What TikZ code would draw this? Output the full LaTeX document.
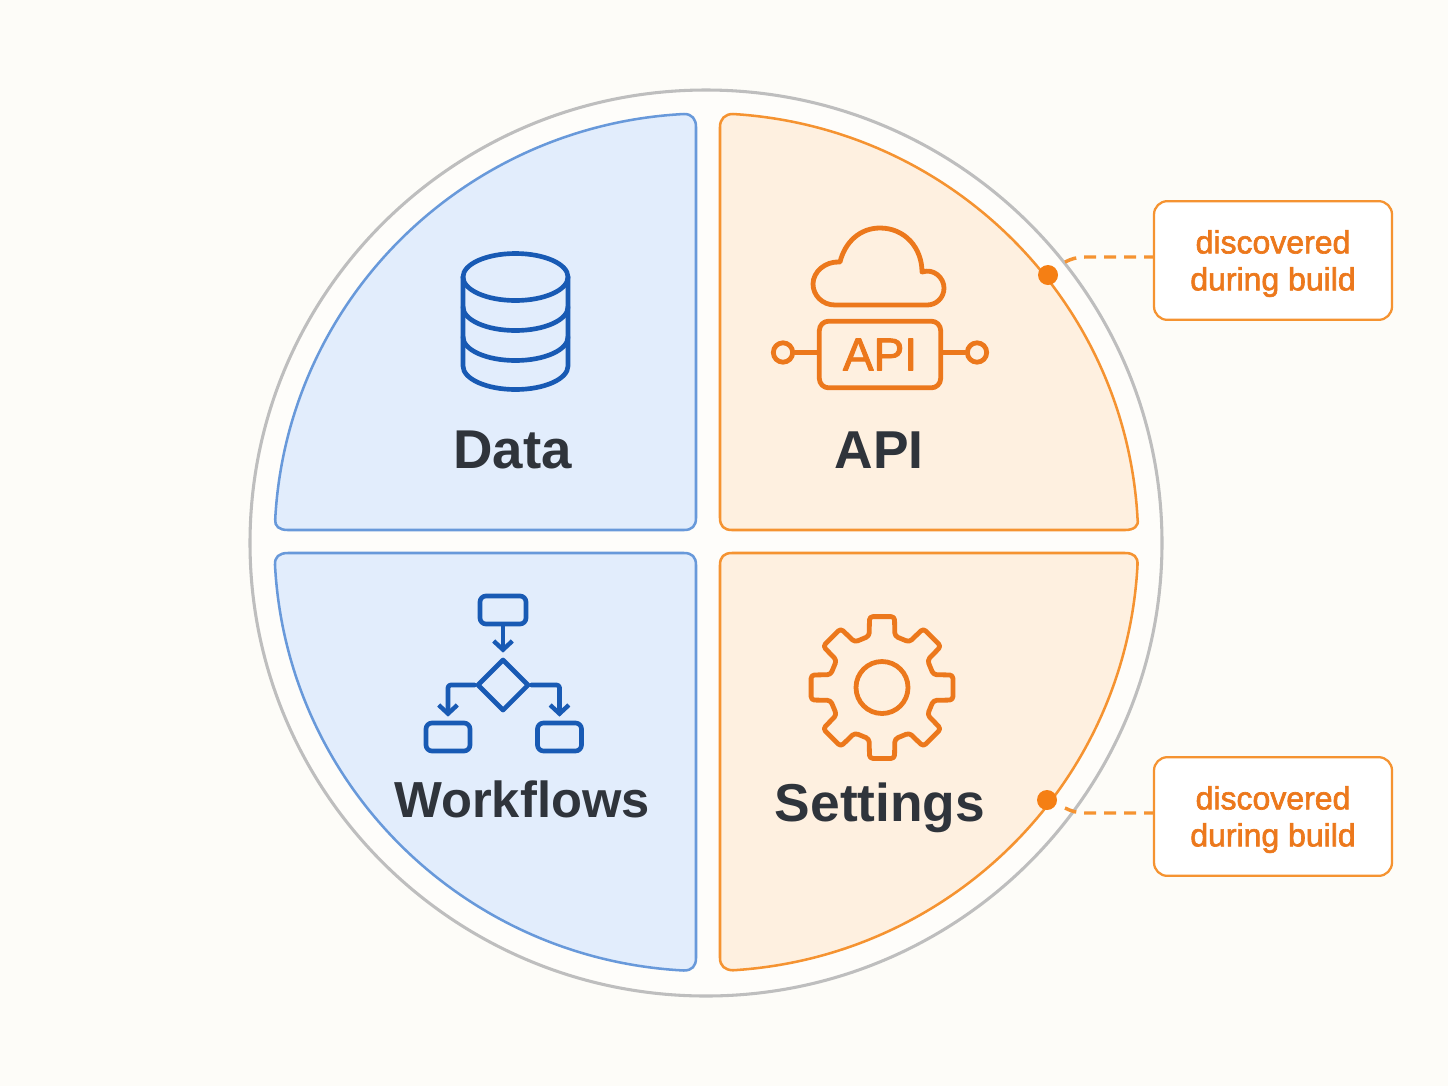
\documentclass[tikz,border=0pt]{standalone}
\usepackage{fontspec}
\setmainfont{Liberation Sans}
\newfontfamily\mediumface[FakeBold=2]{Liberation Sans}
\usetikzlibrary{arrows.meta}
\usetikzlibrary{shapes.geometric}

\definecolor{paper}{RGB}{253,252,248}
\definecolor{ringface}{RGB}{254,253,250}
\definecolor{ringline}{RGB}{190,190,190}
\definecolor{blueface}{RGB}{226,237,252}
\definecolor{blueline}{RGB}{104,153,218}
\definecolor{blueicon}{RGB}{24,90,180}
\definecolor{orangeface}{RGB}{254,240,224}
\definecolor{orangeline}{RGB}{245,147,49}
\definecolor{orangeicon}{RGB}{236,120,28}
\definecolor{orangedot}{RGB}{245,127,20}
\definecolor{labelink}{RGB}{47,52,59}

\newcommand{\notetop}{\rule{0pt}{22pt}}

\tikzset{
  bluepart/.style={draw=blueline,fill=blueface,line width=1.9pt},
  orangepart/.style={draw=orangeline,fill=orangeface,line width=1.9pt},
  blueglyph/.style={draw=blueicon,line width=3.5pt,line join=round,line cap=round},
  orangeglyph/.style={draw=orangeicon,line width=3.6pt,line join=round,line cap=round},
  flowbox/.style={blueglyph,rectangle,rounded corners=4.5pt,inner sep=0pt},
  flowarrow/.style={blueglyph,shorten >=3pt,-{Straight Barb[length=6.5pt,width=14pt,line width=3.3pt]}},
  port/.style={orangeglyph,circle,inner sep=0pt,minimum size=14.5pt},
  partlabel/.style={anchor=base,inner sep=0pt,text=labelink,font=\fontsize{40}{46}\selectfont\bfseries},
  note/.style={draw=orangeline,fill=white,line width=1.7pt,rounded corners=10pt,inner sep=0pt,
    minimum width=178.5pt,minimum height=89pt,align=center,text=orangeicon,
    font=\mediumface\fontsize{24}{27.7}\selectfont},
  notedot/.style={circle,fill=orangedot,inner sep=0pt,minimum size=15pt},
  leadline/.style={draw=orangeline,line width=2.6pt,dash pattern={on 9pt off 6pt}}
}

\begin{document}
\begin{tikzpicture}[x=0.75pt,y=0.75pt,yscale=-1,xscale=1]
\useasboundingbox (0,0) rectangle (1448,1086);
\fill [paper] (0,0) rectangle (1448,1086);

%Outer ring
\draw [draw=ringline,fill=ringface,line width=2.3pt] (706,543) ellipse [x radius=456,y radius=453];

%Quadrants
\draw [bluepart] (684,114) arc [start angle=-93,end angle=-177,x radius=432,y radius=428.5]
  .. controls (274.5,526) and (279,530) .. (288,530) -- (684,530)
  .. controls (692,530) and (696,526) .. (696,518) -- (696,127)
  .. controls (696,119) and (692,114) .. (684,114) -- cycle;
\draw [orangepart] (733,114) arc [start angle=-86.5,end angle=-3,x radius=431.5,y radius=428.5]
  .. controls (1139,526) and (1134,530) .. (1125,530) -- (732,530)
  .. controls (724,530) and (720,526) .. (720,518) -- (720,127)
  .. controls (720,119) and (725,114) .. (733,114) -- cycle;
\draw [bluepart] (275,565) arc [start angle=177,end angle=93,x radius=432,y radius=428.5]
  .. controls (692,970.5) and (696,966) .. (696,958) -- (696,565)
  .. controls (696,557) and (692,553) .. (684,553) -- (288,553)
  .. controls (279,553) and (274.5,557) .. (275,565) -- cycle;
\draw [orangepart] (1137.5,565) arc [start angle=3,end angle=86.5,x radius=431.5,y radius=428.5]
  .. controls (725,970) and (720,966) .. (720,958) -- (720,565)
  .. controls (720,557) and (724,553) .. (732,553) -- (1125,553)
  .. controls (1134,553) and (1138,557) .. (1137.5,565) -- cycle;

%Data icon
\draw [blueglyph] (515.5,277) ellipse [x radius=52.5,y radius=23.5];
\draw [blueglyph] (463,277) -- (463,366) arc [start angle=180,end angle=360,x radius=52.5,y radius=-23.5] -- (568,277);
\draw [blueglyph] (463,307) arc [start angle=180,end angle=360,x radius=52.5,y radius=-23.5];
\draw [blueglyph] (463,337) arc [start angle=180,end angle=360,x radius=52.5,y radius=-23.5];

%API icon
\draw [orangeglyph] (835,305) .. controls (822,305) and (813,295) .. (813,284)
  .. controls (813,272) and (825,261) .. (840,262)
  .. controls (845,242) and (860,228) .. (880,228)
  .. controls (905,228) and (922,248) .. (922,272)
  .. controls (934,268) and (944,278) .. (944,288)
  .. controls (944,298) and (936,305) .. (927,305) -- cycle;
\node [orangeglyph,rectangle,rounded corners=7pt,minimum width=91pt,minimum height=50pt,inner sep=0pt,
  text=orangeicon,font=\mediumface\fontsize{34.5}{40}\selectfont] (apibox) at (880,354.5) {API};
\node [port] (portl) at (783,352.5) {};
\node [port] (portr) at (977,352.5) {};
\draw [orangeglyph] (portl) -- (portl -| apibox.west);
\draw [orangeglyph] (apibox.east |- portr) -- (portr);

%Workflows icon
\node [flowbox,minimum width=34.5pt,minimum height=21pt] (flowtop) at (503,610) {};
\node [blueglyph,diamond,minimum width=39pt,minimum height=39pt,inner sep=0pt] (flowgate) at (503,685) {};
\node [flowbox,minimum width=33pt,minimum height=21pt] (flowleft) at (448,737) {};
\node [flowbox,minimum width=33pt,minimum height=21pt] (flowright) at (559.5,737) {};
\draw [flowarrow] (flowtop) -- (flowgate);
\draw [flowarrow,rounded corners=2pt] (flowgate) -| (flowleft);
\draw [flowarrow,rounded corners=2pt] (flowgate) -| (flowright);

%Settings icon
\begin{scope}[shift={(882,687.5)}]
\draw [orangeglyph,rounded corners=2.5pt] (-14:53) -- (-10:72) -- (10:72) -- (14:53)
  \foreach \a in {45,90,...,315} { -- (\a-14:53) -- (\a-10:72) -- (\a+10:72) -- (\a+14:53) } -- cycle;
\draw [orangeglyph] (0,0) circle [radius=26];
\end{scope}

%Labels
\node [partlabel,font=\fontsize{41}{46}\selectfont\bfseries] (datalabel) at (512.5,468) {Data};
\node [partlabel] (apilabel) at (879,468) {API};
\node [partlabel,font=\fontsize{38}{46}\selectfont\bfseries] (flowlabel) at (522,817) {Workflows};
\node [partlabel] (setlabel) at (880,821) {Settings};

%Notes and leads
\node [note] (note1) at (1273,260.5) {\notetop discovered\\during build};
\node [note] (note2) at (1273,816.5) {\notetop discovered\\during build};
\node [notedot] (dot1) at (1048,275) {};
\node [notedot] (dot2) at (1047,800) {};
\coordinate (tail1) at (1065,262);
\coordinate (bend1) at (1085,257);
\coordinate (tail2) at (1065,808);
\coordinate (bend2) at (1085,813);
\draw [leadline] (tail1) .. controls (1071,259) and (1077,257) .. (bend1) -- (bend1 -| note1.west);
\draw [leadline] (tail2) .. controls (1071,811) and (1077,813) .. (bend2) -- (bend2 -| note2.west);

\end{tikzpicture}
\end{document}
